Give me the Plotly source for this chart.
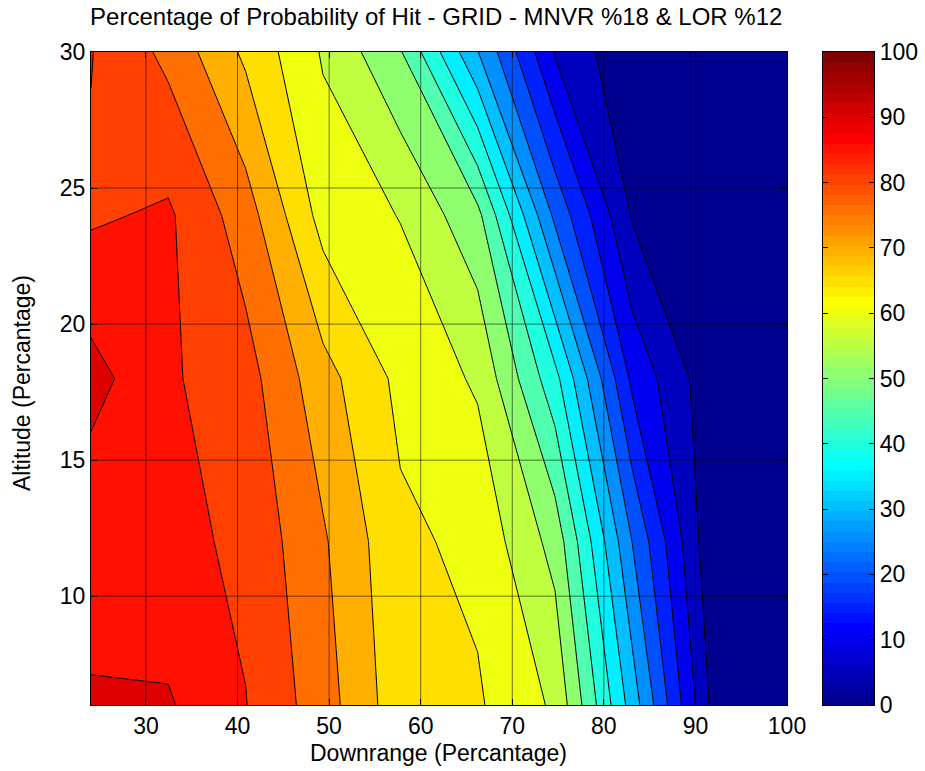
import plotly.graph_objects as go

# Sampling grid: downrange and altitude, both in percent
downrange = [24.0, 32.44, 40.89, 49.33, 57.78, 66.22, 74.67, 83.11, 91.56, 100.0]
altitude = [6, 12, 18, 24, 30]

# Probability of hit (%) along downrange, one list per altitude row
phit_alt06 = [90.9, 90.5, 85.15, 77.3, 67.0, 65.6, 59.2, 32.7, 4.8, 1.5]
phit_alt12 = [86.05, 86.6, 83.9, 75.65, 66.05, 63.75, 53.2, 24.9, 1.8, 0.8]
phit_alt18 = [91.9, 85.7, 82.0, 71.9, 63.7, 59.3, 41.6, 13.8, 1.9, 0.8]
phit_alt24 = [84.3, 85.75, 77.4, 63.1, 59.8, 51.4, 23.8, 4.5, 2.0, 1.0]
phit_alt30 = [85.2, 78.7, 69.0, 59.5, 50.4, 30.2, 9.6, 0.8, 0.5, 0.3]

# Contour levels and tick labels
level_start, level_end, level_step = 0, 100, 5
x_ticks = [30, 40, 50, 60, 70, 80, 90, 100]
y_ticks = [10, 15, 20, 25, 30]
cbar_ticks = [0, 10, 20, 30, 40, 50, 60, 70, 80, 90, 100]

TITLE = "Percentage of Probability of Hit - GRID - MNVR %18 & LOR %12"
XLABEL = "Downrange (Percantage)"
YLABEL = "Altitude (Percantage)"
FONT = "Liberation Sans, Arial, Helvetica, sans-serif"
FS = 23


def jet(m=64):
    """Classic MATLAB jet colormap with m entries (rgb in 0..1)."""
    n = -(-m // 4)
    u = [i / n for i in range(1, n + 1)] + [1.0] * (n - 1) + [i / n for i in range(n, 0, -1)]
    off = -(-n // 2) - (1 if m % 4 == 1 else 0)
    g = [off + i for i in range(1, len(u) + 1)]
    r = [v + n for v in g]
    b = [v - n for v in g]
    cmap = [[0.0, 0.0, 0.0] for _ in range(m)]
    rr = [v for v in r if v <= m]
    for k, row in enumerate(rr):
        cmap[row - 1][0] = u[k]
    gg = [v for v in g if v <= m]
    for k, row in enumerate(gg):
        cmap[row - 1][1] = u[k]
    bb = [v for v in b if v >= 1]
    for k, row in enumerate(bb):
        cmap[row - 1][2] = u[len(u) - len(bb) + k]
    return cmap


def hexcol(c):
    return "#%02x%02x%02x" % tuple(int(round(255 * v)) for v in c)


JET = [hexcol(c) for c in jet(64)]
NCOL = len(JET)


def level_color(level):
    idx = int((level - level_start) / (level_end - level_start) * NCOL)
    return JET[max(0, min(NCOL - 1, idx))]


# Filled-band colorscale: band k sits at k/nb in plotly's fill mapping
levels = list(range(level_start, level_end + level_step, level_step))
nb = len(levels)
band_colors = [level_color(level_start)] + [level_color(lv) for lv in levels]
band_cs = []
for k, col in enumerate(band_colors):
    lo = max(0.0, (k - 0.5) / nb)
    hi = min(1.0, (k + 0.5) / nb)
    band_cs.append([lo, col])
    band_cs.append([hi, col])

# Stepped colorscale for the colour bar
jet_cs = []
for i, col in enumerate(JET):
    jet_cs.append([i / NCOL, col])
    jet_cs.append([(i + 1) / NCOL, col])
cbar_values = [(level_end - level_start) * (i + 0.5) / NCOL for i in range(NCOL)]

z = [phit_alt06, phit_alt12, phit_alt18, phit_alt24, phit_alt30]

fig = go.Figure()
fig.add_trace(go.Contour(
    x=downrange, y=altitude, z=z,
    autocontour=False,
    contours=dict(start=level_start, end=level_end, size=level_step,
                  coloring="fill", showlines=True),
    line=dict(color="black", width=1, smoothing=0),
    colorscale=band_cs, showscale=False, hoverinfo="skip",
    xaxis="x", yaxis="y",
))
fig.add_trace(go.Heatmap(
    x=[0], y=cbar_values, z=[[v] for v in cbar_values],
    colorscale=jet_cs, zmin=level_start, zmax=level_end,
    showscale=False, hoverinfo="skip", xaxis="x2", yaxis="y2",
))

# Grid lines drawn over the filled contours
grid_col = "rgba(0,0,0,0.55)"
shapes = []
for v in x_ticks:
    if v < 100:
        shapes.append(dict(type="line", xref="x", yref="paper", x0=v, x1=v, y0=0, y1=1,
                           line=dict(color=grid_col, width=1), layer="above"))
for v in y_ticks:
    if v < 30:
        shapes.append(dict(type="line", xref="paper", yref="y", x0=0, x1=0.8889, y0=v, y1=v,
                           line=dict(color=grid_col, width=1), layer="above"))

axis_common = dict(showline=True, linecolor="black", linewidth=1.2, mirror="ticks",
                   ticks="inside", ticklen=6, tickcolor="black", showgrid=False,
                   zeroline=False, layer="above traces", automargin=False,
                   tickfont=dict(family=FONT, size=FS, color="black"))

fig.update_layout(
    width=925, height=771,
    margin=dict(l=91, r=51, t=52, b=66, autoexpand=False),
    paper_bgcolor="white", plot_bgcolor="white",
    showlegend=False,
    title=dict(text=TITLE, x=0.4716, xanchor="center", xref="container",
               y=1 - 17 / 771, yanchor="middle", yref="container",
               font=dict(family=FONT, size=FS + 1, color="black")),
    xaxis=dict(domain=[0, 0.8889], range=[24, 100], tickvals=x_ticks, anchor="y", **axis_common),
    yaxis=dict(domain=[0, 1], range=[6, 30], tickvals=y_ticks, anchor="x", **axis_common),
    xaxis2=dict(domain=[0.9349, 1.0], range=[-0.5, 0.5], anchor="y2", showline=True,
                linecolor="black", linewidth=1.2, mirror=True, ticks="", showticklabels=False,
                showgrid=False, zeroline=False, automargin=False),
    yaxis2=dict(domain=[0, 1], range=[level_start, level_end], anchor="x2", side="right",
                tickvals=cbar_ticks, showline=True, linecolor="black", linewidth=1.2,
                mirror="ticks", ticks="inside", ticklen=5, tickcolor="black",
                showgrid=False, zeroline=False, layer="above traces", automargin=False,
                tickfont=dict(family=FONT, size=FS, color="black")),
    shapes=shapes,
    annotations=[
        dict(text=XLABEL, xref="paper", yref="paper", x=0.4444, y=-48 / 653,
             xanchor="center", yanchor="middle", showarrow=False,
             font=dict(family=FONT, size=FS, color="black")),
        dict(text=YLABEL, xref="paper", yref="paper", x=-69 / 783, y=0.493,
             xanchor="center", yanchor="middle", textangle=-90, showarrow=False,
             font=dict(family=FONT, size=FS, color="black")),
    ],
)

fig.write_html("out.html")
